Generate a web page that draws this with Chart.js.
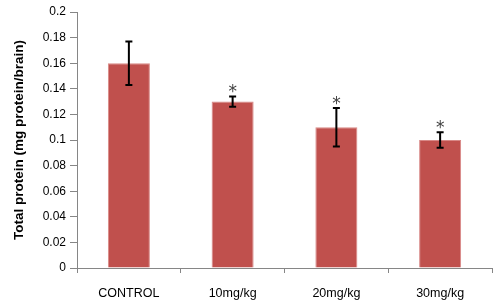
<!DOCTYPE html>
<html>
<head>
<meta charset="utf-8">
<script src="https://cdn.jsdelivr.net/npm/chart.js@4"></script>
<style>
  html, body { margin: 0; padding: 0; background: #fff; }
  #wrap { width: 501px; height: 307px; }
</style>
</head>
<body>
<div id="wrap"><canvas id="ProteinChart" width="501" height="307"></canvas></div>
<script>
    // valores
    const categories = ["CONTROL", "10mg/kg", "20mg/kg", "30mg/kg"];
    const proteinMeans = [0.16, 0.13, 0.11, 0.10];
    const proteinErrors = [0.017, 0.004, 0.015, 0.006];
    const significant = [false, true, true, true];
    const yTicks = [0, 0.02, 0.04, 0.06, 0.08, 0.1, 0.12, 0.14, 0.16, 0.18, 0.2];

    const errorBars = {
        id: "errorBars",
        afterDatasetsDraw(chart) {
            let ctx = chart.ctx;
            let yScale = chart.scales.y;
            let meta = chart.getDatasetMeta(0);
            ctx.save();
            meta.data.forEach((bar, i) => {
                let x = bar.x;
                let top = yScale.getPixelForValue(proteinMeans[i] + proteinErrors[i]);
                let bottom = yScale.getPixelForValue(proteinMeans[i] - proteinErrors[i]);
                ctx.strokeStyle = "#000";
                ctx.lineWidth = 2;
                ctx.beginPath();
                ctx.moveTo(x, top);
                ctx.lineTo(x, bottom);
                ctx.moveTo(x - 3.5, top);
                ctx.lineTo(x + 3.5, top);
                ctx.moveTo(x - 3.5, bottom);
                ctx.lineTo(x + 3.5, bottom);
                ctx.stroke();
                if (significant[i]) {
                    ctx.fillStyle = "#404040";
                    ctx.font = "17px 'DejaVu Sans'";
                    ctx.textAlign = "center";
                    ctx.textBaseline = "alphabetic";
                    ctx.fillText("*", x, top + 0.5);
                }
            });
            ctx.restore();
        }
    };

    let proteinCanvas = document.getElementById("ProteinChart").getContext("2d");
    let proteinChart = new Chart(proteinCanvas, {
        type: "bar",
        data: {
            labels: categories,
            datasets: [{
                label: "Total protein",
                data: proteinMeans,
                backgroundColor: "#C0504D",
                borderColor: "#D88886",
                borderWidth: { top: 1, left: 1, right: 1, bottom: 0 },
                categoryPercentage: 1,
                barPercentage: 0.405
            }]
        },
        options: {
            responsive: false,
            animation: false,
            layout: { padding: { top: 12, right: 9, left: 0, bottom: 0 } },
            plugins: {
                legend: { display: false },
                tooltip: { enabled: false }
            },
            scales: {
                x: {
                    afterFit: (scale) => { scale.height = 39; },
                    grid: { drawOnChartArea: false, drawTicks: true, tickLength: 5, color: "#868686", offset: true },
                    border: { color: "#868686" },
                    ticks: { color: "#000", padding: 13, font: { family: "Liberation Sans", size: 12.5 } }
                },
                y: {
                    min: 0,
                    max: 0.2,
                    afterFit: (scale) => { scale.width = 77; },
                    afterBuildTicks: (scale) => { scale.ticks = yTicks.map(v => ({ value: v })); },
                    grid: { drawOnChartArea: false, drawTicks: true, tickLength: 7, color: "#868686" },
                    border: { color: "#868686" },
                    ticks: {
                        color: "#000",
                        padding: 4,
                        font: { family: "Liberation Sans", size: 12 },
                        callback: (v) => String(Math.round(v * 100) / 100)
                    },
                    title: {
                        display: true,
                        text: "Total protein (mg protein/brain)",
                        color: "#000",
                        padding: { top: 11, bottom: 0 },
                        font: { family: "Liberation Sans", size: 13.5, weight: "bold" }
                    }
                }
            }
        },
        plugins: [errorBars]
    });
</script>
</body>
</html>
